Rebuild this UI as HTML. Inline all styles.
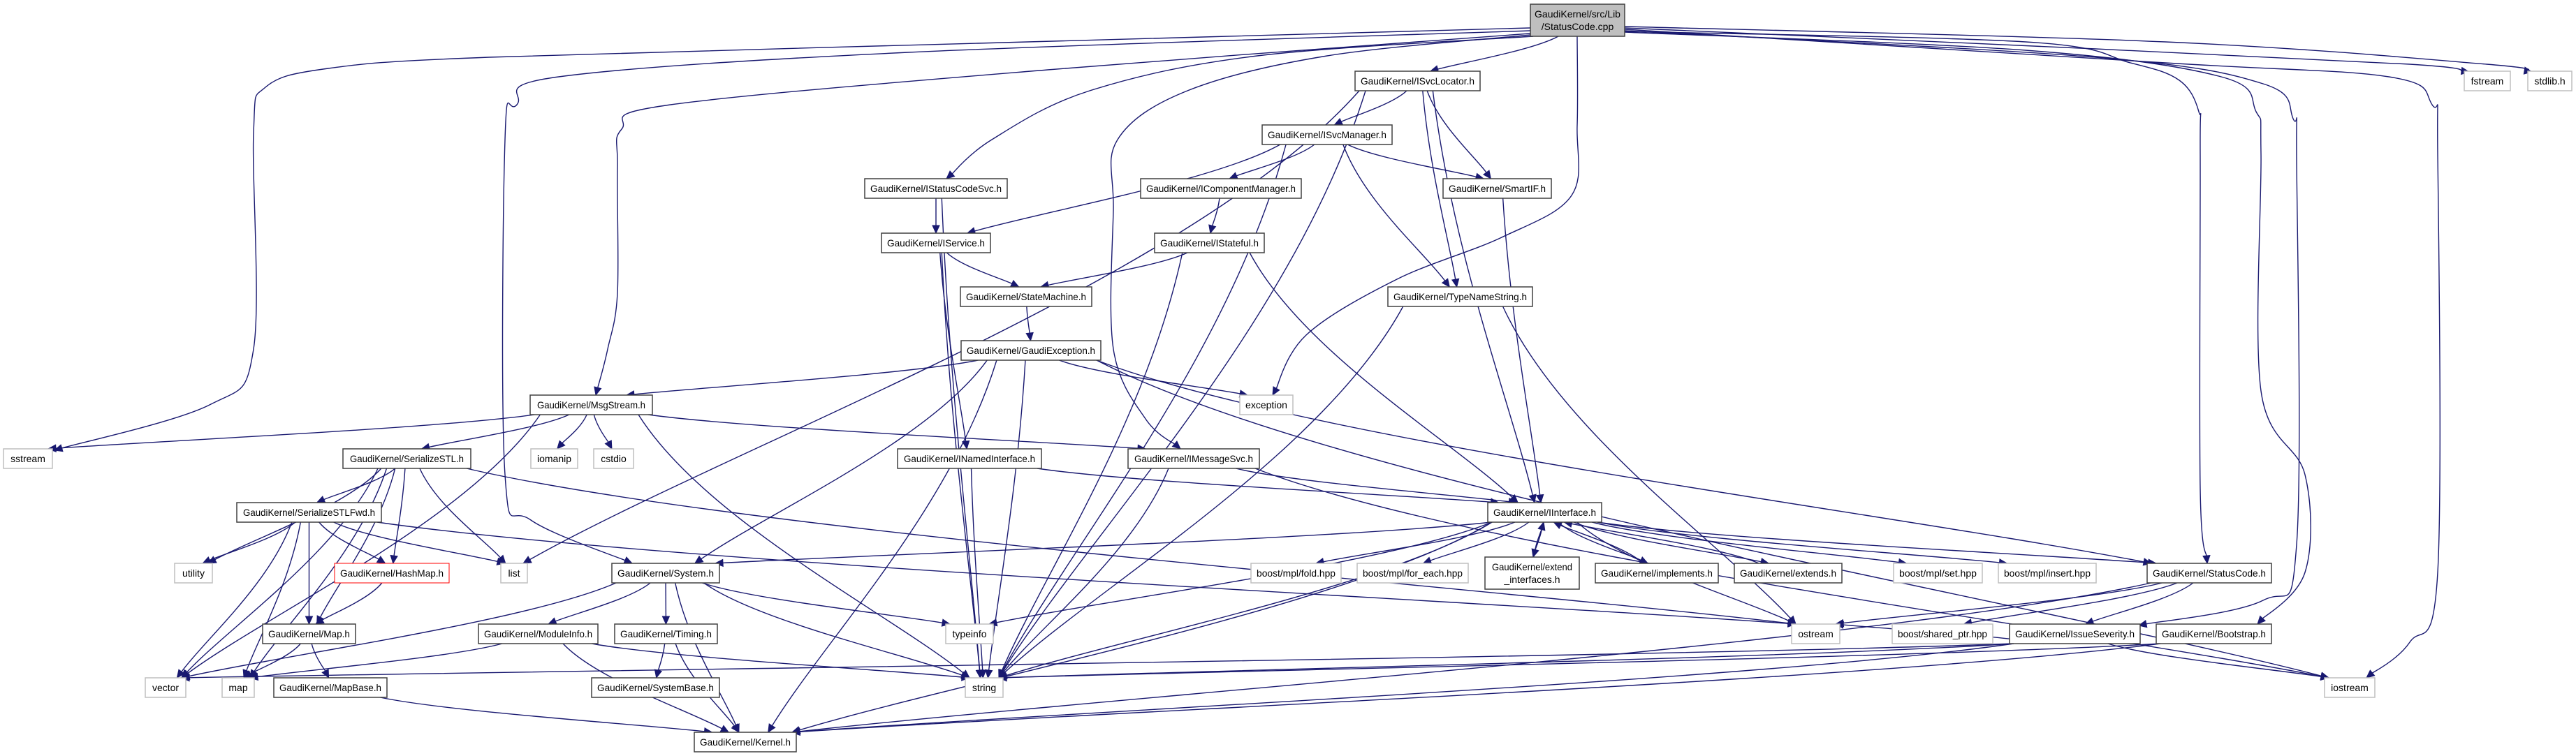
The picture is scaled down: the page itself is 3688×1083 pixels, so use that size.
<!DOCTYPE html>
<html><head><meta charset="utf-8">
<style>
html,body{margin:0;padding:0;background:#fff;}
svg{display:block;}
text{font-family:"Liberation Sans",Arial,sans-serif;font-size:14px;fill:#000;}
</style></head>
<body>
<svg id="g" width="3688" height="1083" viewBox="0 0 3688 1083" xmlns="http://www.w3.org/2000/svg">
<g id="edges"></g>
<g id="nodes" stroke-width="1.5">
<rect x="2191" y="6" width="135" height="46" fill="#bfbfbf" stroke="#404040"/>
<text x="2258.5" y="25" text-anchor="middle">GaudiKernel/src/Lib</text>
<text x="2258.5" y="43" text-anchor="middle">/StatusCode.cpp</text>

<rect x="1940" y="102" width="179" height="28" fill="#fff" stroke="#404040"/><text x="2029.5" y="121" text-anchor="middle" textLength="163" lengthAdjust="spacingAndGlyphs">GaudiKernel/ISvcLocator.h</text>
<rect x="3528" y="102" width="66" height="28" fill="#fff" stroke="#bfbfbf"/><text x="3561" y="121" text-anchor="middle">fstream</text>
<rect x="3619" y="102" width="63" height="28" fill="#fff" stroke="#bfbfbf"/><text x="3650.5" y="121" text-anchor="middle">stdlib.h</text>

<rect x="1807" y="179" width="186" height="28" fill="#fff" stroke="#404040"/><text x="1900" y="198" text-anchor="middle" textLength="170" lengthAdjust="spacingAndGlyphs">GaudiKernel/ISvcManager.h</text>

<rect x="1238" y="256" width="204" height="28" fill="#fff" stroke="#404040"/><text x="1340" y="275" text-anchor="middle" textLength="188" lengthAdjust="spacingAndGlyphs">GaudiKernel/IStatusCodeSvc.h</text>
<rect x="1633" y="256" width="230" height="28" fill="#fff" stroke="#404040"/><text x="1748" y="275" text-anchor="middle" textLength="214" lengthAdjust="spacingAndGlyphs">GaudiKernel/IComponentManager.h</text>
<rect x="2066" y="256" width="155" height="28" fill="#fff" stroke="#404040"/><text x="2143.5" y="275" text-anchor="middle" textLength="139" lengthAdjust="spacingAndGlyphs">GaudiKernel/SmartIF.h</text>

<rect x="1262" y="334" width="156" height="28" fill="#fff" stroke="#404040"/><text x="1340" y="353" text-anchor="middle" textLength="140" lengthAdjust="spacingAndGlyphs">GaudiKernel/IService.h</text>
<rect x="1653" y="334" width="157" height="28" fill="#fff" stroke="#404040"/><text x="1731.5" y="353" text-anchor="middle" textLength="141" lengthAdjust="spacingAndGlyphs">GaudiKernel/IStateful.h</text>

<rect x="1375" y="411" width="188" height="28" fill="#fff" stroke="#404040"/><text x="1469" y="430" text-anchor="middle" textLength="172" lengthAdjust="spacingAndGlyphs">GaudiKernel/StateMachine.h</text>
<rect x="1987" y="411" width="207" height="28" fill="#fff" stroke="#404040"/><text x="2090.5" y="430" text-anchor="middle" textLength="191" lengthAdjust="spacingAndGlyphs">GaudiKernel/TypeNameString.h</text>

<rect x="1376" y="488" width="200" height="28" fill="#fff" stroke="#404040"/><text x="1476" y="507" text-anchor="middle" textLength="184" lengthAdjust="spacingAndGlyphs">GaudiKernel/GaudiException.h</text>

<rect x="759" y="566" width="175" height="28" fill="#fff" stroke="#404040"/><text x="846.5" y="585" text-anchor="middle" textLength="155" lengthAdjust="spacingAndGlyphs">GaudiKernel/MsgStream.h</text>
<rect x="1775" y="566" width="76" height="28" fill="#fff" stroke="#bfbfbf"/><text x="1813" y="585" text-anchor="middle">exception</text>

<rect x="5" y="643" width="70" height="28" fill="#fff" stroke="#bfbfbf"/><text x="40" y="662" text-anchor="middle">sstream</text>
<rect x="491" y="643" width="183" height="28" fill="#fff" stroke="#404040"/><text x="582.5" y="662" text-anchor="middle" textLength="163" lengthAdjust="spacingAndGlyphs">GaudiKernel/SerializeSTL.h</text>
<rect x="760" y="643" width="67" height="28" fill="#fff" stroke="#bfbfbf"/><text x="793.5" y="662" text-anchor="middle">iomanip</text>
<rect x="850" y="643" width="57" height="28" fill="#fff" stroke="#bfbfbf"/><text x="878.5" y="662" text-anchor="middle">cstdio</text>
<rect x="1285" y="643" width="206" height="28" fill="#fff" stroke="#404040"/><text x="1388" y="662" text-anchor="middle" textLength="188" lengthAdjust="spacingAndGlyphs">GaudiKernel/INamedInterface.h</text>
<rect x="1615" y="643" width="188" height="28" fill="#fff" stroke="#404040"/><text x="1709" y="662" text-anchor="middle" textLength="170" lengthAdjust="spacingAndGlyphs">GaudiKernel/IMessageSvc.h</text>

<rect x="339" y="720" width="207" height="28" fill="#fff" stroke="#404040"/><text x="442.5" y="739" text-anchor="middle" textLength="189" lengthAdjust="spacingAndGlyphs">GaudiKernel/SerializeSTLFwd.h</text>
<rect x="2130" y="720" width="163" height="28" fill="#fff" stroke="#404040"/><text x="2211.5" y="739" text-anchor="middle" textLength="147" lengthAdjust="spacingAndGlyphs">GaudiKernel/IInterface.h</text>

<rect x="250" y="807" width="54" height="28" fill="#fff" stroke="#bfbfbf"/><text x="277" y="826" text-anchor="middle">utility</text>
<rect x="479" y="807" width="164" height="28" fill="#fff" stroke="#ff0000" stroke-width="1"/><text x="561" y="826" text-anchor="middle" textLength="148" lengthAdjust="spacingAndGlyphs">GaudiKernel/HashMap.h</text>
<rect x="717" y="807" width="38" height="28" fill="#fff" stroke="#bfbfbf"/><text x="736" y="826" text-anchor="middle">list</text>
<rect x="876" y="807" width="154" height="28" fill="#fff" stroke="#404040"/><text x="953" y="826" text-anchor="middle" textLength="138" lengthAdjust="spacingAndGlyphs">GaudiKernel/System.h</text>
<rect x="1791" y="807" width="129" height="28" fill="#fff" stroke="#bfbfbf"/><text x="1855.5" y="826" text-anchor="middle" textLength="113" lengthAdjust="spacingAndGlyphs">boost/mpl/fold.hpp</text>
<rect x="1943" y="807" width="159" height="28" fill="#fff" stroke="#bfbfbf"/><text x="2022.5" y="826" text-anchor="middle" textLength="143" lengthAdjust="spacingAndGlyphs">boost/mpl/for_each.hpp</text>
<rect x="2126" y="798" width="135" height="46" fill="#fff" stroke="#404040"/><text x="2193.5" y="817" text-anchor="middle" textLength="115" lengthAdjust="spacingAndGlyphs">GaudiKernel/extend</text><text x="2193.5" y="835" text-anchor="middle">_interfaces.h</text>
<rect x="2284" y="807" width="176" height="28" fill="#fff" stroke="#404040"/><text x="2372" y="826" text-anchor="middle" textLength="160" lengthAdjust="spacingAndGlyphs">GaudiKernel/implements.h</text>
<rect x="2483" y="807" width="154" height="28" fill="#fff" stroke="#404040"/><text x="2560" y="826" text-anchor="middle" textLength="138" lengthAdjust="spacingAndGlyphs">GaudiKernel/extends.h</text>
<rect x="2711" y="807" width="127" height="28" fill="#fff" stroke="#bfbfbf"/><text x="2774.5" y="826" text-anchor="middle" textLength="111" lengthAdjust="spacingAndGlyphs">boost/mpl/set.hpp</text>
<rect x="2861" y="807" width="140" height="28" fill="#fff" stroke="#bfbfbf"/><text x="2931" y="826" text-anchor="middle" textLength="124" lengthAdjust="spacingAndGlyphs">boost/mpl/insert.hpp</text>
<rect x="3074" y="807" width="178" height="28" fill="#fff" stroke="#404040"/><text x="3163" y="826" text-anchor="middle" textLength="162" lengthAdjust="spacingAndGlyphs">GaudiKernel/StatusCode.h</text>

<rect x="376" y="894" width="133" height="28" fill="#fff" stroke="#404040"/><text x="442.5" y="913" text-anchor="middle" textLength="117" lengthAdjust="spacingAndGlyphs">GaudiKernel/Map.h</text>
<rect x="685" y="894" width="171" height="28" fill="#fff" stroke="#404040"/><text x="770.5" y="913" text-anchor="middle" textLength="155" lengthAdjust="spacingAndGlyphs">GaudiKernel/ModuleInfo.h</text>
<rect x="880" y="894" width="147" height="28" fill="#fff" stroke="#404040"/><text x="953.5" y="913" text-anchor="middle" textLength="131" lengthAdjust="spacingAndGlyphs">GaudiKernel/Timing.h</text>
<rect x="1354" y="894" width="68" height="28" fill="#fff" stroke="#bfbfbf"/><text x="1388" y="913" text-anchor="middle">typeinfo</text>
<rect x="2565" y="894" width="69" height="28" fill="#fff" stroke="#bfbfbf"/><text x="2599.5" y="913" text-anchor="middle">ostream</text>
<rect x="2709" y="894" width="144" height="28" fill="#fff" stroke="#bfbfbf"/><text x="2781" y="913" text-anchor="middle" textLength="128" lengthAdjust="spacingAndGlyphs">boost/shared_ptr.hpp</text>
<rect x="2877" y="894" width="187" height="28" fill="#fff" stroke="#404040"/><text x="2970.5" y="913" text-anchor="middle" textLength="171" lengthAdjust="spacingAndGlyphs">GaudiKernel/IssueSeverity.h</text>
<rect x="3087" y="894" width="165" height="28" fill="#fff" stroke="#404040"/><text x="3169.5" y="913" text-anchor="middle" textLength="149" lengthAdjust="spacingAndGlyphs">GaudiKernel/Bootstrap.h</text>

<rect x="208" y="971" width="58" height="28" fill="#fff" stroke="#bfbfbf"/><text x="237" y="990" text-anchor="middle">vector</text>
<rect x="318" y="971" width="46" height="28" fill="#fff" stroke="#bfbfbf"/><text x="341" y="990" text-anchor="middle">map</text>
<rect x="392" y="971" width="162" height="28" fill="#fff" stroke="#404040"/><text x="473" y="990" text-anchor="middle" textLength="146" lengthAdjust="spacingAndGlyphs">GaudiKernel/MapBase.h</text>
<rect x="847" y="971" width="183" height="28" fill="#fff" stroke="#404040"/><text x="938.5" y="990" text-anchor="middle" textLength="167" lengthAdjust="spacingAndGlyphs">GaudiKernel/SystemBase.h</text>
<rect x="1382" y="971" width="54" height="28" fill="#fff" stroke="#bfbfbf"/><text x="1409" y="990" text-anchor="middle">string</text>
<rect x="3328" y="971" width="72" height="28" fill="#fff" stroke="#bfbfbf"/><text x="3364" y="990" text-anchor="middle">iostream</text>

<rect x="994" y="1049" width="146" height="28" fill="#fff" stroke="#404040"/><text x="1067" y="1068" text-anchor="middle" textLength="130" lengthAdjust="spacingAndGlyphs">GaudiKernel/Kernel.h</text>
</g>
</svg>
<script>
var N={
root:[2191,2326,6,46],svcloc:[1940,2119,102],svcmgr:[1807,1993,179],scsvc:[1238,1442,256],
compmgr:[1633,1863,256],smartif:[2066,2221,256],service:[1262,1418,334],stateful:[1653,1810,334],
statem:[1375,1563,411],tns:[1987,2194,411],gexc:[1376,1576,488],fstream:[3528,3594,102],stdlib:[3619,3682,102],
msgstream:[759,934,566],exception:[1775,1851,566],sstream:[5,75,643],sstl:[491,674,643],iomanip:[760,827,643],
cstdio:[850,907,643],named:[1285,1491,643],imsg:[1615,1803,643],sstlfwd:[339,546,720],iinterface:[2130,2293,720],
utility:[250,304,807],hashmap:[479,643,807],list:[717,755,807],system:[876,1030,807],fold:[1791,1920,807],
foreach:[1943,2102,807],extif:[2126,2261,798,46],impl:[2284,2460,807],extends:[2483,2637,807],set:[2711,2838,807],
insert:[2861,3001,807],statuscode:[3074,3252,807],map_h:[376,509,894],modinfo:[685,856,894],timing:[880,1027,894],
typeinfo:[1354,1422,894],ostream:[2565,2634,894],sharedptr:[2709,2853,894],issue:[2877,3064,894],bootstrap:[3087,3252,894],
vector:[208,266,971],map:[318,364,971],mapbase:[392,554,971],sysbase:[847,1030,971],string:[1382,1436,971],
iostream:[3328,3400,971],kernel:[994,1140,1049]};
var P=[
[[2191,40],[1400,62],[700,82],[470,98],[380,125],[363,190],[363,500],[300,580],[78,645]],
[[2191,44],[1300,75],[800,110],[740,150],[723,200],[723,680],[760,745],[905,807]],
[[2191,48],[1500,100],[960,150],[890,185],[884,240],[884,420],[870,500],[853,566]],
[[2191,50],[1900,80],[1700,130],[1600,200],[1594,300],[1594,500],[1640,600],[1690,643]],
[[2195,52],[1800,80],[1560,130],[1420,200],[1355,256]],
[[2258,52],[2258,180],[2250,280],[2150,340],[2000,400],[1870,480],[1822,566]],
[[2326,45],[2900,60],[3050,90],[3120,115],[3148,160],[3150,220],[3150,700],[3160,807]],
[[2326,46],[2900,72],[3180,110],[3230,160],[3237,220],[3237,560],[3300,680],[3300,820],[3232,894]],
[[2326,44],[3000,82],[3240,120],[3283,170],[3288,230],[3288,780],[3240,860],[3062,896]],
[[2326,42],[3100,90],[3420,110],[3482,150],[3490,220],[3490,820],[3450,920],[3388,971]],
[[2326,40],[3000,70],[3450,92],[3535,103]],
[[2326,38],[3100,60],[3560,92],[3625,103]]
];
var E=[
"root svcloc",
"svcloc svcmgr","svcloc smartif","svcloc tns","svcloc iinterface","svcloc string","svcloc list",
"svcmgr service","svcmgr compmgr","svcmgr smartif","svcmgr tns","svcmgr string",
"scsvc service","scsvc string","compmgr stateful","stateful statem","stateful iinterface","stateful string",
"service statem","service named","service string","statem gexc","smartif iinterface","tns string","tns ostream",
"gexc msgstream","gexc exception","gexc system","gexc string","gexc kernel","gexc statuscode","gexc iostream",
"msgstream sstream","msgstream vector","msgstream sstl","msgstream iomanip","msgstream cstdio","msgstream string","msgstream imsg",
"sstl sstlfwd","sstl hashmap","sstl utility","sstl list","sstl vector","sstl map","sstl map_h","sstl ostream",
"sstlfwd utility","sstlfwd hashmap","sstlfwd list","sstlfwd vector","sstlfwd map","sstlfwd map_h","sstlfwd ostream",
"hashmap map_h","map_h map","map_h mapbase","mapbase kernel","named iinterface","named string",
"imsg iinterface","imsg string","imsg iostream",
"iinterface system","iinterface fold","iinterface foreach","iinterface extif","iinterface impl","iinterface extends","iinterface set","iinterface insert","iinterface statuscode","iinterface ostream","iinterface typeinfo","iinterface string","iinterface kernel",
"extif iinterface","impl iinterface","extends iinterface",
"system modinfo","system timing","system typeinfo","system string","system vector","system kernel",
"modinfo string","modinfo kernel","modinfo map","timing sysbase","timing kernel",
"statuscode ostream","statuscode issue","statuscode sharedptr","statuscode kernel",
"issue string","issue iostream","issue kernel","issue ostream","issue vector","bootstrap string","bootstrap kernel"];
function box(k){var n=N[k];return {x1:n[0],x2:n[1],y1:n[2],y2:n[2]+(n[3]||28),cx:(n[0]+n[1])/2};}
var g=document.getElementById('edges'),ns="http://www.w3.org/2000/svg",C="#191970",AL=11,AW=5;
function cl(v,a,b){return Math.max(a,Math.min(b,v));}
function draw(d,tx,ty,fx,fy){
 var dx=tx-fx,dy=ty-fy,L=Math.sqrt(dx*dx+dy*dy)||1,ux=dx/L,uy=dy/L;
 var ex=tx-ux*AL,ey=ty-uy*AL;
 var path=document.createElementNS(ns,'path');
 path.setAttribute('d',d+' '+ex+','+ey);
 path.setAttribute('fill','none');path.setAttribute('stroke',C);path.setAttribute('stroke-width','1.4');
 g.appendChild(path);
 var a=document.createElementNS(ns,'polygon');
 a.setAttribute('points',tx+','+ty+' '+(ex-uy*AW)+','+(ey+ux*AW)+' '+(ex+uy*AW)+','+(ey-ux*AW));
 a.setAttribute('fill',C);a.setAttribute('stroke',C);
 g.appendChild(a);
}
P.forEach(function(p){
 var n=p.length,d='M'+p[0][0]+','+p[0][1],lc;
 for(var i=0;i<n-1;i++){
  var p0=p[Math.max(0,i-1)],p1=p[i],p2=p[i+1],p3=p[Math.min(n-1,i+2)];
  var c1=[p1[0]+(p2[0]-p0[0])/6,p1[1]+(p2[1]-p0[1])/6],c2=[p2[0]-(p3[0]-p1[0])/6,p2[1]-(p3[1]-p1[1])/6];
  if(i<n-2)d+=' C'+c1+' '+c2+' '+p2;
  else{d+=' C'+c1+' '+c2;lc=c2;}
 }
 var t=p[n-1];
 if(Math.abs(lc[0]-t[0])+Math.abs(lc[1]-t[1])<1)lc=p[n-2];
 draw(d,t[0],t[1],lc[0],lc[1]);
});
E.forEach(function(e){
 var p=e.split(' '),s=box(p[0]),t=box(p[1]);
 var sx,sy,tx,ty,up=t.y2<=s.y1;
 sx=cl(s.cx+(t.cx-s.cx)*0.12,s.x1+6,s.x2-6);
 tx=cl(t.cx+(s.cx-t.cx)*0.08,t.x1+6,t.x2-6);
 if(up){sy=s.y1;ty=t.y2;}else{sy=s.y2;ty=t.y1;}
 var dx=tx-sx,dy=ty-sy;
 var c1x=sx+dx*0.2,c1y=sy+dy*0.4,c2x=sx+dx*0.75,c2y=sy+dy*0.75;
 draw('M'+sx+','+sy+' C'+c1x+','+c1y+' '+c2x+','+c2y,tx,ty,c2x,c2y);
});
</script>
</body></html>
